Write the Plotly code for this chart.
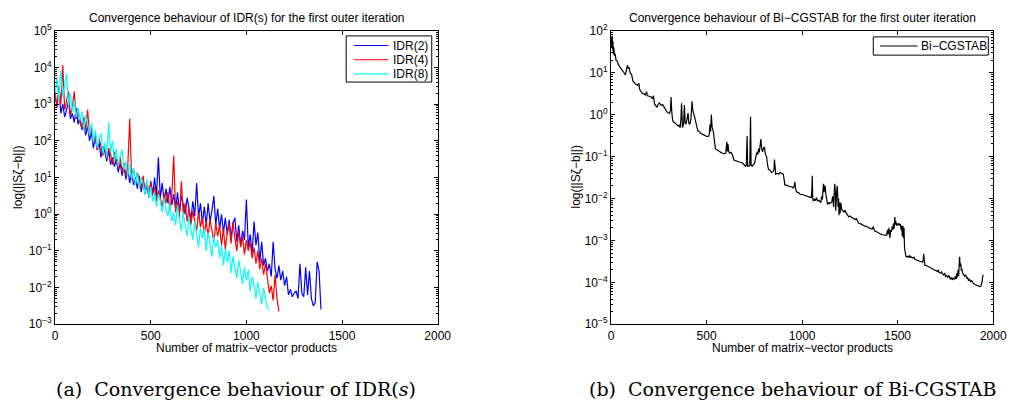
import plotly.graph_objects as go

# ---------------------------------------------------------------------------
# Residual histories, first outer iteration.
# Values are log10(||S*zeta - b||) sampled every 10 matrix-vector products
# for the IDR(s) runs; Bi-CGSTAB is given at its own (irregular) sample points.
# ---------------------------------------------------------------------------
SAMPLE_STEP = 10

idr2_log = [
    3.2, 2.95, 3.35, 2.75, 3.0, 2.65, 2.85, 3.1, 2.6, 2.75,
    2.5, 2.9, 2.45, 2.65, 2.3, 2.5, 2.15, 2.4, 2.0, 2.25,
    1.8, 2.1, 1.75, 1.95, 1.55, 1.85, 1.7, 1.45, 1.75, 1.35,
    1.55, 1.3, 1.5, 1.15, 1.4, 1.05, 1.3, 0.95, 1.25, 0.85,
    1.15, 0.8, 1.0, 0.7, 1.05, 0.6, 0.9, 0.55, 0.8, 0.45,
    0.9, 0.55, 1.0, 0.5, 1.55, 0.45, 0.85, 0.35, 0.7, 0.3,
    0.75, 0.25, 0.55, 0.15, 0.6, 0.05, 0.5, 0.2, 0.0, 0.45,
    0.1, -0.15, 0.35, -0.05, 0.85, -0.1, 0.3, -0.25, 0.2, -0.3,
    0.3, -0.2, 0.1, 0.5, -0.3, 0.15, -0.4, 0.0, -0.5, -0.1,
    -0.55, -0.15, -0.65, -0.25, -0.1, -0.75, -0.3, -0.85, -0.45, -0.7,
    0.4, -0.9, -0.55, -1.1, -0.2, -0.85, -0.5, -1.3, -0.75, -1.4,
    -1.2, -1.55, -1.35, -1.7, -0.75, -1.5, -1.75, -1.4, -1.8, -1.55,
    -1.95, -1.7, -2.2, -2.05, -2.25, -2.15, -2.1, -2.3, -1.35, -2.15,
    -2.25, -1.45, -2.2, -1.55, -2.3, -2.5, -2.4, -1.3, -1.55, -2.6,
]

idr4_log = [
    3.3, 2.9, 3.5, 3.0, 4.07, 2.85, 3.1, 3.35, 2.7, 2.9,
    3.35, 2.6, 2.85, 2.5, 2.35, 2.65, 2.3, 2.85, 2.15, 2.35,
    1.95, 2.2, 1.75, 2.05, 1.85, 1.6, 1.9, 1.5, 1.8, 1.65,
    1.35, 1.7, 1.45, 1.25, 1.55, 1.15, 1.4, 1.05, 1.3, 2.6,
    0.95, 1.25, 0.85, 1.15, 0.95, 0.7, 1.05, 0.65, 0.9, 0.55,
    0.85, 0.5, 0.75, 0.35, 0.65, 0.45, 0.2, 0.55, 0.3, 0.6,
    0.1, 0.5, 1.6, 0.05, 0.35, -0.1, 0.9, 0.0, 0.3, -0.2,
    0.15, -0.3, 0.1, -0.2, -0.45, 0.05, -0.35, -0.1, -0.55, -0.2,
    -0.6, -0.15, -0.45, -0.75, -0.25, -0.6, -0.3, -0.85, -0.4, -0.95,
    -0.5, -0.25, -0.8, -0.2, -0.65, -1.0, -0.45, -0.9, -0.6, -1.1,
    -0.7, -1.0, -0.75, -1.2, -0.9, -1.35, -1.0, -1.5, -1.2, -1.65,
    -1.35, -1.8, -2.15, -1.95, -2.35, -1.65, -2.3, -2.65,
]

idr8_log = [
    3.3, 3.7, 3.05, 3.93, 3.2, 3.5, 3.84, 2.95, 3.3, 2.8,
    3.1, 2.65, 2.9, 2.55, 2.8, 2.3, 2.7, 2.45, 2.15, 2.5,
    1.95, 2.3, 1.8, 2.05, 2.2, 1.65, 1.95, 1.55, 2.5, 1.7,
    2.0, 1.45, 1.8, 1.3, 1.6, 1.75, 1.2, 1.45, 1.05, 1.35,
    0.95, 1.25, 0.8, 1.15, 0.7, 1.0, 0.85, 0.55, 0.95, 0.45,
    0.75, 0.35, 0.6, 0.2, 0.55, 0.35, 0.05, 0.45, 0.1, -0.05,
    0.3, -0.2, 0.05, -0.3, 0.25, -0.15, -0.45, 0.05, -0.3, -0.6,
    -0.1, -0.45, -0.7, -0.2, -0.55, -0.9, -0.35, -0.65, -0.4, -1.0,
    -0.5, -0.85, -1.15, -0.6, -0.9, -0.7, -1.2, -0.85, -1.4, -0.95,
    -1.3, -1.0, -1.6, -1.15, -1.45, -1.75, -1.25, -1.6, -1.9, -1.45,
    -1.8, -1.5, -2.1, -1.7, -1.95, -2.3, -1.85, -2.15, -2.45, -2.0,
    -2.3, -2.55, -2.6,
]

bicg_mvp = [
    0, 2, 4, 6, 8, 10, 12, 15, 18, 22, 26, 32, 40, 50, 60, 68, 75, 80, 86, 90,
    95, 100, 108, 115, 122, 130, 140, 146, 150, 158, 165, 172, 180, 186, 190, 200,
    210, 216, 222, 228, 234, 240, 247, 254, 262, 270, 278, 285, 292, 300, 306, 311,
    314, 318, 323, 330, 336, 343, 350, 356, 362, 366, 369, 372, 374, 380, 384, 388,
    392, 398, 403, 407, 412, 418, 424, 428, 434, 440, 447, 455, 462, 470, 481, 490,
    500, 510, 515, 518, 521, 525, 529, 535, 540, 546, 555, 567, 575, 584, 592, 600,
    603, 606, 609, 612, 615, 620, 628, 635, 643, 652, 661, 672, 687, 697, 704, 708,
    712, 715, 721, 726, 730, 733, 738, 745, 752, 758, 764, 768, 772, 776, 780, 784,
    788, 793, 798, 803, 808, 814, 819, 824, 832, 841, 848, 853, 855, 858, 862, 870,
    878, 884, 892, 901, 906, 910, 918, 926, 936, 945, 952, 958, 962, 965, 970, 980,
    990, 1004, 1015, 1025, 1039, 1048, 1051, 1053, 1055, 1058, 1065, 1070, 1075, 1081,
    1088, 1093, 1098, 1102, 1106, 1110, 1112, 1115, 1118, 1121, 1124, 1128, 1133, 1140,
    1145, 1150, 1155, 1160, 1165, 1168, 1171, 1174, 1176, 1180, 1183, 1185, 1188, 1191,
    1193, 1196, 1199, 1202, 1207, 1212, 1219, 1224, 1228, 1235, 1245, 1252, 1258, 1264,
    1270, 1278, 1284, 1290, 1296, 1304, 1312, 1322, 1330, 1339, 1348, 1358, 1366, 1373,
    1376, 1382, 1392, 1400, 1408, 1416, 1426, 1435, 1442, 1445, 1447, 1450, 1454, 1459,
    1463, 1467, 1471, 1474, 1478, 1481, 1485, 1488, 1491, 1493, 1497, 1502, 1506, 1510,
    1514, 1518, 1521, 1524, 1527, 1530, 1533, 1536, 1540, 1544, 1552, 1558, 1562, 1566,
    1570, 1578, 1585, 1590, 1596, 1604, 1612, 1618, 1622, 1630, 1634, 1636, 1638, 1642,
    1650, 1660, 1670, 1680, 1690, 1700, 1708, 1712, 1716, 1724, 1730, 1734, 1740, 1746,
    1750, 1756, 1762, 1768, 1772, 1776, 1782, 1786, 1792, 1798, 1802, 1806, 1810, 1813,
    1816, 1819, 1822, 1824, 1827, 1830, 1833, 1836, 1840, 1844, 1850, 1856, 1862, 1866,
    1870, 1876, 1882, 1888, 1896, 1904, 1912, 1918, 1922, 1930, 1936, 1939, 1942, 1945,
    1948,
]

bicg_log = [
    1.72, 1.85, 1.6, 1.88, 1.55, 1.75, 1.45, 1.6, 1.4, 1.45, 1.3, 1.28, 1.18, 1.1, 1.05, 1.0, 0.95, 1.05, 1.18, 1.1,
    1.13, 1.0, 0.95, 0.8, 0.75, 0.72, 0.7, 0.75, 0.6, 0.55, 0.5, 0.5, 0.47, 0.55, 0.45, 0.44,
    0.42, 0.38, 0.45, 0.25, 0.2, 0.18, 0.25, 0.28, 0.22, 0.24, 0.18, 0.12, 0.07, 0.04, 0.03, 0.1,
    0.42, 0.05, -0.15, -0.18, -0.2, -0.23, -0.27, -0.25, -0.31, -0.1, 0.27, -0.25, -0.31, -0.22, 0.23, -0.2,
    -0.23, -0.1, 0.04, -0.2, -0.23, -0.1, 0.32, 0.1, 0.02, -0.1, -0.25, -0.39, -0.4, -0.45, -0.47, -0.5,
    -0.52, -0.52, -0.45, -0.23, -0.4, 0.0, -0.3, -0.39, -0.6, -0.81, -0.84, -0.89, -0.9, -0.92, -0.93, -0.92,
    -0.8, -0.65, -0.88, -0.7, -0.85, -0.92, -0.9, -0.95, -1.08, -1.1, -1.11, -1.13, -1.15, -1.2, -1.23, -1.2,
    -0.51, -1.23, -1.23, -1.22, -0.05, -1.2, -1.23, -1.18, -1.15, -1.0, -0.89, -0.95, -0.81, -0.9, -0.75, -0.58,
    -0.8, -0.89, -0.8, -0.77, -0.95, -1.0, -1.2, -1.3, -1.33, -1.38, -1.36, -1.3, -1.07, -1.3, -1.42, -1.4,
    -1.42, -1.38, -1.4, -1.42, -1.55, -1.68, -1.68, -1.7, -1.72, -1.72, -1.75, -1.72, -1.6, -1.75, -1.84, -1.86,
    -1.9, -1.91, -1.93, -1.95, -1.97, -1.98, -1.8, -1.46, -1.95, -2.06, -2.02, -2.05, -1.98, -2.06,
    -2.04, -2.08, -2.1, -1.95, -2.02, -1.75, -1.65, -1.85, -1.7, -1.72, -1.9, -2.0, -2.14, -2.1,
    -2.12, -2.1, -2.08, -1.95, -2.2, -1.85, -1.65, -1.9, -2.29, -1.9, -1.7, -1.76, -2.2, -2.0,
    -2.4, -2.1, -2.35, -2.1, -2.25, -2.3, -2.33, -2.28, -2.33, -2.38, -2.44, -2.42, -2.45, -2.46,
    -2.48, -2.5, -2.48, -2.55, -2.59, -2.6, -2.62, -2.65, -2.66, -2.67, -2.7, -2.72, -2.73, -2.67,
    -2.74, -2.78, -2.8, -2.83, -2.84, -2.86, -2.87, -2.88, -2.88, -2.8, -2.75, -2.85, -2.7, -2.94,
    -2.75, -2.8, -2.67, -2.75, -2.6, -2.72, -2.44, -2.62, -2.55, -2.65, -2.6, -2.63, -2.6, -2.63,
    -2.62, -2.75, -2.65, -2.9, -2.65, -2.95, -2.7, -3.2, -3.3, -3.39, -3.38, -3.4, -3.35, -3.41,
    -3.39, -3.42, -3.4, -3.45, -3.46, -3.48, -3.49, -3.5, -3.51, -3.52, -3.45, -3.32, -3.55, -3.59,
    -3.6, -3.63, -3.64, -3.67, -3.7, -3.72, -3.74, -3.7, -3.76, -3.78, -3.75, -3.8, -3.82, -3.78,
    -3.86, -3.84, -3.88, -3.83, -3.9, -3.93, -3.88, -3.94, -3.9, -3.93, -3.85, -3.92, -3.78, -3.88,
    -3.7, -3.85, -3.55, -3.39, -3.62, -3.55, -3.72, -3.68, -3.78, -3.8, -3.85, -3.83, -3.9, -3.88,
    -3.95, -3.93, -3.98, -3.96, -4.03, -4.05, -4.07, -4.08, -4.1, -4.1, -4.09, -4.05, -3.97, -3.85,
    -3.82,
]

x_ticks = [0, 500, 1000, 1500, 2000]
left_decades = list(range(-3, 6))
right_decades = list(range(-5, 3))

idr_series = [("IDR(2)", idr2_log, "#0000ff"),
              ("IDR(4)", idr4_log, "#ff0000"),
              ("IDR(8)", idr8_log, "#00ffff")]
bicg_series = ("Bi\u2212CGSTAB", "black")


def mvp_axis(log_values):
    return [i * SAMPLE_STEP for i in range(len(log_values))]


def to_norm(log_values):
    return [10 ** v for v in log_values]


def decade_label(k):
    return "10<sup>%s</sup>" % (str(k).replace("-", "\u2212"))


def minor_positions(decades):
    return [m * 10.0 ** k for k in decades[:-1] for m in range(2, 10)]


SANS = "Liberation Sans, Arial, Helvetica, sans-serif"
SERIF = "DejaVu Serif, serif"
FS = 12
W, H = 1022, 412

fig = go.Figure()
for name, vals, col in idr_series:
    fig.add_trace(go.Scatter(x=mvp_axis(vals), y=to_norm(vals), mode="lines",
                             name=name, line=dict(color=col, width=1.2),
                             xaxis="x", yaxis="y", showlegend=False))

fig.add_trace(go.Scatter(x=bicg_mvp, y=to_norm(bicg_log), mode="lines",
                         name=bicg_series[0], line=dict(color=bicg_series[1], width=1.2),
                         xaxis="x2", yaxis="y2", showlegend=False))

ax_font = dict(family=SANS, size=FS, color="black")
common = dict(showline=True, linecolor="black", linewidth=1, mirror="allticks",
              ticks="inside", ticklen=4, tickcolor="black", tickwidth=1,
              showgrid=False, zeroline=False, tickfont=ax_font)
ydom = [(H - 328) / H, (H - 22.7) / H]


def log_axis(decades, anchor):
    return dict(type="log", range=[decades[0], decades[-1]], anchor=anchor,
                tickmode="array", tickvals=[10.0 ** k for k in decades],
                ticktext=[decade_label(k) for k in decades],
                minor=dict(tickmode="array", tickvals=minor_positions(decades),
                           ticks="inside", ticklen=2, tickcolor="black",
                           showgrid=False),
                domain=ydom, **common)


fig.update_layout(
    width=W, height=H, margin=dict(l=0, r=0, t=0, b=0),
    paper_bgcolor="white", plot_bgcolor="white", font=ax_font,
    showlegend=False,
    xaxis=dict(domain=[53 / W, 442 / W], range=[0, 2000], tickvals=x_ticks,
               anchor="y", **common),
    yaxis=log_axis(left_decades, "x"),
    xaxis2=dict(domain=[618.3 / W, 1007 / W], range=[0, 2000], tickvals=x_ticks,
                anchor="y2", **common),
    yaxis2=log_axis(right_decades, "x2"),
)

ann = []
shapes = []


def px_x(v):
    return v / W


def px_y(v):
    return 1 - v / H


def text(t, x, y, font=ax_font, xanchor="center", angle=0):
    ann.append(dict(text=t, x=px_x(x), y=px_y(y), xref="paper", yref="paper",
                    showarrow=False, xanchor=xanchor, yanchor="middle",
                    textangle=angle, font=font))


# panel titles
text("Convergence behaviour of IDR(s) for the first outer iteration", 247.5, 9)
text("Convergence behaviour of Bi\u2212CGSTAB for the first outer iteration", 812.6, 9)
# axis titles
for cx in (247.5, 812.6):
    text("Number of matrix\u2212vector products", cx, 353)
for cx in (15, 583):
    text("log(||S\u03b6\u2212b||)", cx, 175, angle=-90)


# legends: framed box, short line sample and label per entry
def legend_box(x0, y0, x1, y1, entries, row0, row_step, line_x0, line_x1, text_x):
    shapes.append(dict(type="rect", xref="paper", yref="paper",
                       x0=px_x(x0), x1=px_x(x1), y0=px_y(y1), y1=px_y(y0),
                       line=dict(color="black", width=1), fillcolor="white",
                       layer="above"))
    for i, (label, col) in enumerate(entries):
        yy = row0 + i * row_step
        shapes.append(dict(type="line", xref="paper", yref="paper",
                           x0=px_x(line_x0), x1=px_x(line_x1), y0=px_y(yy), y1=px_y(yy),
                           line=dict(color=col, width=1.2), layer="above"))
        text(label, text_x, yy, xanchor="left")


legend_box(349, 28, 436, 76, [(n, c) for n, _, c in idr_series],
           38, 14.8, 357, 392, 395)
legend_box(885, 29, 1002, 48, [bicg_series], 38.5, 0, 892, 930, 931)

# sub-figure captions
cap_font = dict(family=SERIF, size=19, color="black")
text("(a)  Convergence behaviour of IDR(<i>s</i>)", 237, 395, font=cap_font)
text("(b)  Convergence behaviour of Bi-CGSTAB", 803.5, 395, font=cap_font)

fig.update_layout(annotations=ann, shapes=shapes)
fig.write_html("out.html")
